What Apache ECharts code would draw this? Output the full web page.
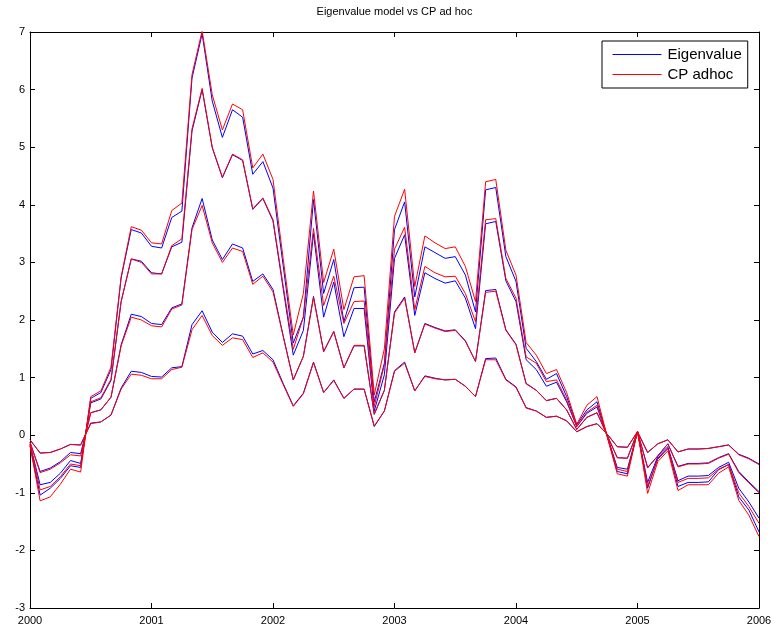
<!DOCTYPE html>
<html>
<head>
<meta charset="utf-8">
<title>Eigenvalue model vs CP ad hoc</title>
<script src="https://cdn.jsdelivr.net/npm/echarts@6/dist/echarts.min.js"></script>
<style>
  html, body { margin: 0; padding: 0; background: #fff; }
  #chart { width: 778px; height: 634px; }
</style>
</head>
<body>
<div id="chart"></div>
<script>
// Monthly observations, Jan 2000 .. Jan 2006 (73 points)
const startYear = 2000;
const monthCount = 73;

// Eigenvalue model, four maturities (smallest to largest loading)
const eigenvalue1 = [-0.08,-0.31,-0.30,-0.24,-0.16,-0.17,0.21,0.23,0.35,0.82,1.11,1.09,1.02,1.01,1.17,1.19,1.92,2.16,1.79,1.61,1.76,1.72,1.41,1.47,1.31,0.90,0.51,0.73,1.27,0.74,0.96,0.64,0.80,0.80,0.15,0.42,1.12,1.27,0.77,1.03,0.99,0.96,0.97,0.85,0.67,1.33,1.34,0.97,0.84,0.48,0.42,0.31,0.33,0.25,0.06,0.15,0.20,0.02,-0.20,-0.21,0.06,-0.30,-0.15,-0.08,-0.29,-0.24,-0.24,-0.23,-0.20,-0.17,-0.33,-0.40,-0.50];
const eigenvalue2 = [-0.12,-0.63,-0.57,-0.46,-0.30,-0.32,0.39,0.44,0.66,1.57,2.10,2.06,1.94,1.92,2.21,2.28,3.60,4.11,3.39,3.05,3.32,3.25,2.67,2.80,2.53,1.73,0.96,1.37,2.41,1.45,1.80,1.17,1.55,1.55,0.36,0.78,2.14,2.40,1.43,1.94,1.87,1.81,1.83,1.64,1.28,2.51,2.53,1.83,1.58,0.90,0.78,0.60,0.64,0.44,0.10,0.31,0.39,0.00,-0.39,-0.40,0.06,-0.56,-0.36,-0.15,-0.54,-0.49,-0.49,-0.48,-0.39,-0.32,-0.63,-0.81,-0.98];
const eigenvalue3 = [-0.15,-0.86,-0.82,-0.66,-0.44,-0.49,0.56,0.63,0.95,2.32,3.06,3.02,2.82,2.80,3.27,3.35,5.28,6.00,4.99,4.47,4.87,4.77,3.92,4.11,3.72,2.55,1.39,1.82,3.50,2.05,2.66,1.71,2.20,2.20,0.42,1.05,3.07,3.48,2.08,2.82,2.72,2.64,2.68,2.38,1.85,3.67,3.71,2.68,2.32,1.31,1.14,0.85,0.92,0.58,0.15,0.38,0.49,-0.01,-0.56,-0.59,0.06,-0.82,-0.37,-0.20,-0.79,-0.71,-0.71,-0.70,-0.56,-0.47,-0.92,-1.16,-1.44];
const eigenvalue4 = [-0.18,-1.04,-0.92,-0.75,-0.53,-0.56,0.64,0.74,1.14,2.73,3.57,3.51,3.28,3.25,3.78,3.89,6.20,6.97,5.80,5.17,5.65,5.52,4.53,4.75,4.29,2.95,1.60,2.05,4.09,2.46,3.05,1.97,2.56,2.57,0.58,1.25,3.57,4.05,2.40,3.27,3.17,3.07,3.10,2.78,2.14,4.26,4.30,3.10,2.67,1.51,1.28,0.97,1.07,0.67,0.18,0.44,0.58,-0.02,-0.63,-0.67,0.07,-0.92,-0.40,-0.23,-0.89,-0.82,-0.82,-0.81,-0.60,-0.51,-1.07,-1.30,-1.68];

// CP ad hoc regression, same four maturities
const cpAdhoc1 = [-0.08,-0.31,-0.30,-0.24,-0.16,-0.17,0.20,0.23,0.35,0.80,1.06,1.04,0.98,0.98,1.14,1.18,1.83,2.08,1.73,1.56,1.69,1.66,1.35,1.43,1.27,0.88,0.50,0.72,1.26,0.74,0.95,0.64,0.80,0.80,0.16,0.42,1.11,1.25,0.77,1.02,0.98,0.96,0.97,0.85,0.67,1.31,1.31,0.96,0.83,0.47,0.42,0.31,0.33,0.25,0.06,0.15,0.20,0.02,-0.20,-0.21,0.06,-0.30,-0.15,-0.08,-0.29,-0.24,-0.24,-0.23,-0.20,-0.17,-0.34,-0.41,-0.51];
const cpAdhoc2 = [-0.12,-0.65,-0.59,-0.48,-0.34,-0.36,0.39,0.44,0.66,1.55,2.05,2.00,1.90,1.88,2.19,2.26,3.57,3.99,3.34,3.00,3.25,3.19,2.62,2.76,2.49,1.72,0.96,1.37,2.39,1.45,1.80,1.17,1.56,1.56,0.37,0.78,2.12,2.38,1.43,1.93,1.86,1.80,1.82,1.63,1.28,2.48,2.50,1.82,1.57,0.89,0.78,0.60,0.64,0.44,0.10,0.31,0.39,0.00,-0.39,-0.40,0.06,-0.57,-0.36,-0.15,-0.55,-0.50,-0.50,-0.49,-0.40,-0.33,-0.65,-0.83,-1.00];
const cpAdhoc3 = [-0.15,-0.95,-0.89,-0.72,-0.50,-0.53,0.58,0.65,0.97,2.32,3.06,3.00,2.80,2.80,3.29,3.41,5.32,6.02,5.00,4.48,4.88,4.78,3.93,4.12,3.74,2.60,1.49,2.05,3.59,2.25,2.76,1.94,2.32,2.33,0.50,1.22,3.23,3.61,2.18,2.93,2.82,2.75,2.76,2.46,1.97,3.74,3.76,2.72,2.38,1.36,1.25,0.93,0.96,0.61,0.15,0.40,0.52,-0.01,-0.59,-0.63,0.06,-0.88,-0.42,-0.23,-0.82,-0.75,-0.75,-0.74,-0.59,-0.51,-1.00,-1.24,-1.53];
const cpAdhoc4 = [-0.18,-1.14,-1.07,-0.85,-0.59,-0.64,0.67,0.77,1.18,2.75,3.62,3.56,3.34,3.32,3.90,4.03,6.26,7.02,5.91,5.30,5.75,5.65,4.64,4.88,4.44,3.07,1.74,2.46,4.24,2.65,3.23,2.18,2.75,2.77,0.70,1.50,3.80,4.27,2.58,3.46,3.34,3.24,3.27,2.93,2.32,4.40,4.44,3.21,2.78,1.61,1.39,1.07,1.14,0.74,0.19,0.52,0.67,-0.02,-0.67,-0.71,0.07,-1.01,-0.46,-0.27,-0.96,-0.86,-0.86,-0.86,-0.66,-0.55,-1.13,-1.39,-1.76];

const yearTicks = [2000, 2001, 2002, 2003, 2004, 2005, 2006];
const valueTicks = [-3, -2, -1, 0, 1, 2, 3, 4, 5, 6, 7];

const chartTitle = 'Eigenvalue model vs CP ad hoc';
const eigenName = 'Eigenvalue';
const adhocName = 'CP adhoc';

// Decimal-year time stamps for the monthly observations
const monthStamps = [];
for (let i = 0; i < monthCount; i++) monthStamps.push(startYear + i / 12);

function pairUp(values) {
  return values.map((v, i) => [monthStamps[i], v]);
}

const FONT = '"Liberation Sans", Arial, Helvetica, sans-serif';

function lineSeries(name, values, color) {
  return {
    name: name,
    type: 'line',
    data: pairUp(values),
    symbol: 'none',
    showSymbol: false,
    animation: false,
    silent: true,
    lineStyle: { color: color, width: 1 },
    itemStyle: { color: color }
  };
}

const blue = '#0000ff';
const red = '#ff0000';

const series = [
  lineSeries(eigenName, eigenvalue1, blue),
  lineSeries(eigenName, eigenvalue2, blue),
  lineSeries(eigenName, eigenvalue3, blue),
  lineSeries(eigenName, eigenvalue4, blue),
  lineSeries(adhocName, cpAdhoc1, red),
  lineSeries(adhocName, cpAdhoc2, red),
  lineSeries(adhocName, cpAdhoc3, red),
  lineSeries(adhocName, cpAdhoc4, red)
];

const axisLineStyle = { show: true, onZero: false, lineStyle: { color: '#000', width: 1 } };
const tickStyle = { show: true, inside: true, length: 5, lineStyle: { color: '#000', width: 1 } };

const chart = echarts.init(document.getElementById('chart'), null, { renderer: 'canvas' });
chart.setOption({
  animation: false,
  backgroundColor: '#fff',
  graphic: [{
    type: 'text',
    x: 394.5,
    y: 6,
    style: {
      text: chartTitle,
      fill: '#000',
      font: '11px ' + FONT,
      textAlign: 'center',
      textVerticalAlign: 'top'
    }
  }],
  legend: {
    data: [eigenName, adhocName],
    orient: 'vertical',
    left: 602,
    top: 41,
    backgroundColor: '#fff',
    borderColor: '#000',
    borderWidth: 1,
    padding: [6, 6, 6, 10],
    itemWidth: 49,
    itemHeight: 14,
    itemGap: 5,
    selectedMode: false,
    itemStyle: { opacity: 0 },
    lineStyle: { width: 1 },
    textStyle: { fontFamily: FONT, fontSize: 15, color: '#000', padding: [0, 0, 0, 1] }
  },
  grid: { left: 30, top: 32, width: 729, height: 576, containLabel: false },
  xAxis: [{
    type: 'value',
    min: 2000,
    max: 2006,
    interval: 1,
    position: 'bottom',
    axisLine: axisLineStyle,
    axisTick: tickStyle,
    splitLine: { show: false },
    axisLabel: {
      show: true,
      margin: 7,
      color: '#000',
      fontFamily: FONT,
      fontSize: 11,
      formatter: v => (yearTicks.indexOf(v) >= 0 ? String(v) : '')
    }
  }, {
    type: 'value',
    min: 2000,
    max: 2006,
    interval: 1,
    position: 'top',
    axisLine: axisLineStyle,
    axisTick: tickStyle,
    splitLine: { show: false },
    axisLabel: { show: false }
  }],
  yAxis: [{
    type: 'value',
    min: -3,
    max: 7,
    interval: 1,
    position: 'left',
    axisLine: axisLineStyle,
    axisTick: tickStyle,
    splitLine: { show: false },
    axisLabel: {
      show: true,
      margin: 5,
      color: '#000',
      fontFamily: FONT,
      fontSize: 11,
      formatter: v => (valueTicks.indexOf(v) >= 0 ? String(v) : '')
    }
  }, {
    type: 'value',
    min: -3,
    max: 7,
    interval: 1,
    position: 'right',
    axisLine: axisLineStyle,
    axisTick: tickStyle,
    splitLine: { show: false },
    axisLabel: { show: false }
  }],
  series: series
});
</script>
</body>
</html>
